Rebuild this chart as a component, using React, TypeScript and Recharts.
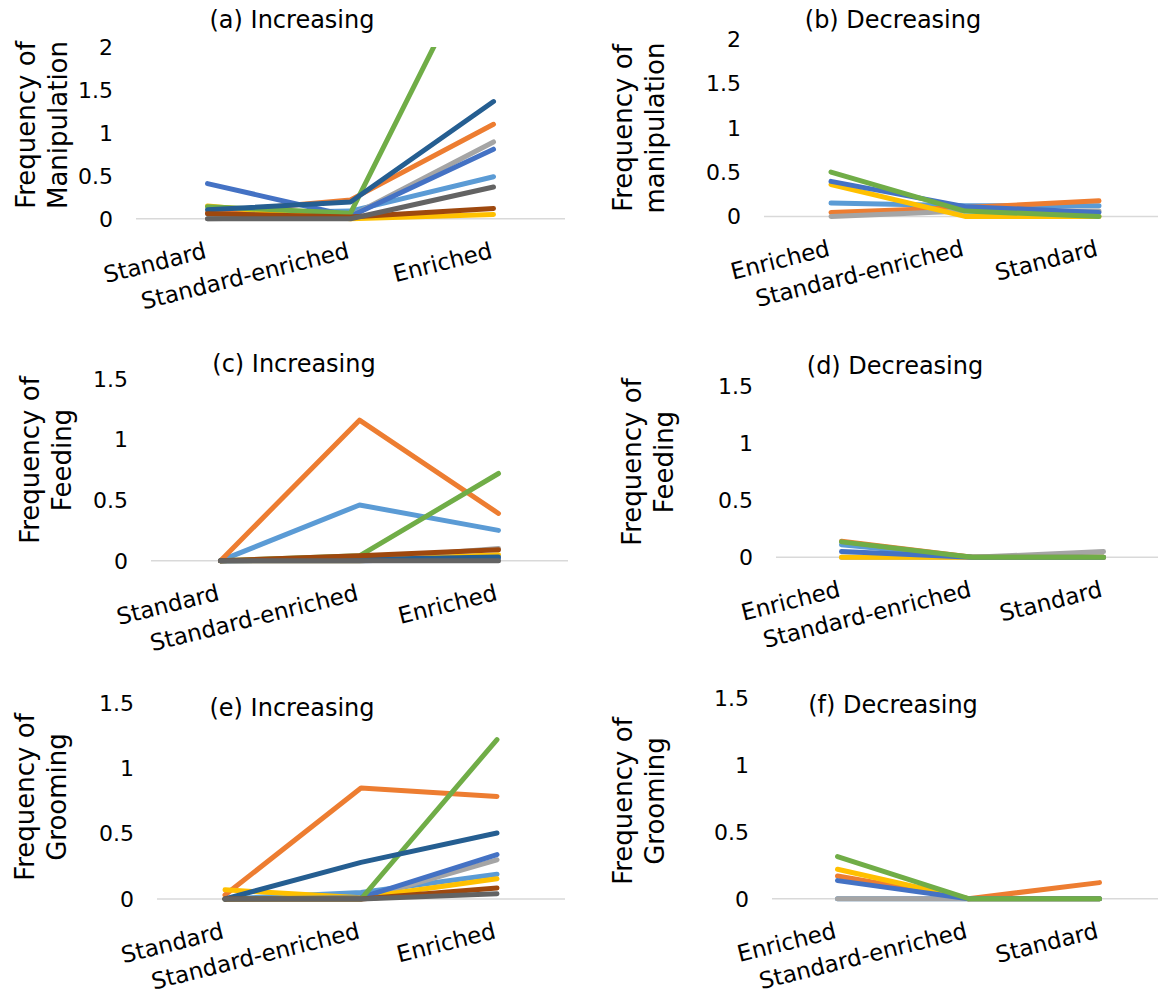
import React from "react";
import { LineChart, Line, XAxis, YAxis, CartesianGrid } from "recharts";

const FONT = '"DejaVu Sans", Verdana, sans-serif';

const INCREASING = ["Standard", "Standard-enriched", "Enriched"];
const DECREASING = ["Enriched", "Standard-enriched", "Standard"];

// Office 2013 palette, in series order
const COLORS = [
  "#5B9BD5",
  "#ED7D31",
  "#A5A5A5",
  "#FFC000",
  "#4472C4",
  "#70AD47",
  "#255E91",
  "#9E480E",
  "#636363",
];

const MANIP_TICKS = [0, 0.5, 1, 1.5, 2];
const OTHER_TICKS = [0, 0.5, 1, 1.5];

// one row per animal, one value per housing condition
const manipulationUp = [
  [0.06, 0.09, 0.49],
  [0.07, 0.22, 1.1],
  [0.0, 0.03, 0.895],
  [0.15, 0.0, 0.05],
  [0.41, 0.03, 0.81],
  [0.14, 0.065, 3.39],
  [0.105, 0.195, 1.365],
  [0.06, 0.02, 0.12],
  [0.0, 0.0, 0.37],
];

const manipulationDown = [
  [0.15, 0.12, 0.12],
  [0.045, 0.1, 0.175],
  [0.0, 0.06, 0.06],
  [0.36, 0.0, 0.0],
  [0.395, 0.11, 0.045],
  [0.5, 0.06, 0.0],
];

const feedingUp = [
  [0.0, 0.46, 0.25],
  [0.0, 1.16, 0.39],
  [0.0, 0.01, 0.1],
  [0.0, 0.0, 0.05],
  [0.0, 0.0, 0.02],
  [0.0, 0.04, 0.72],
  [0.0, 0.01, 0.03],
  [0.0, 0.04, 0.09],
  [0.0, 0.0, 0.0],
];

const feedingDown = [
  [0.11, 0.0, 0.0],
  [0.14, 0.0, 0.0],
  [0.0, 0.0, 0.05],
  [0.0, 0.0, 0.0],
  [0.05, 0.0, 0.0],
  [0.135, 0.0, 0.0],
];

const groomingUp = [
  [0.0, 0.05, 0.19],
  [0.03, 0.85, 0.785],
  [0.0, 0.0, 0.3],
  [0.07, 0.01, 0.155],
  [0.0, 0.01, 0.34],
  [0.0, 0.0, 1.22],
  [0.0, 0.28, 0.505],
  [0.0, 0.0, 0.085],
  [0.0, 0.0, 0.04],
];

const groomingDown = [
  [0.0, 0.0, 0.0],
  [0.17, 0.0, 0.12],
  [0.0, 0.0, 0.0],
  [0.22, 0.0, 0.0],
  [0.135, 0.0, 0.0],
  [0.315, 0.0, 0.0],
];

const PANELS = [
  {
    title: "(a) Increasing",
    titleAt: [292, 20],
    yTitle: ["Frequency of", "Manipulation"],
    yTitleAt: [42, 125],
    cats: INCREASING,
    series: manipulationUp,
    yMax: 2,
    ticks: MANIP_TICKS,
    clip: true,
    plot: { x0: 135.5, x1: 564.5, top: 46.7, base: 218.5 },
  },
  {
    title: "(b) Decreasing",
    titleAt: [893, 20],
    yTitle: ["Frequency of", "manipulation"],
    yTitleAt: [639, 128],
    cats: DECREASING,
    series: manipulationDown,
    yMax: 2,
    ticks: MANIP_TICKS,
    clip: false,
    plot: { x0: 764, x1: 1166, top: 39.3, base: 216.7 },
  },
  {
    title: "(c) Increasing",
    titleAt: [294, 364],
    yTitle: ["Frequency of", "Feeding"],
    yTitleAt: [46, 460],
    cats: INCREASING,
    series: feedingUp,
    yMax: 1.5,
    ticks: OTHER_TICKS,
    clip: false,
    plot: { x0: 150.5, x1: 567.5, top: 379.3, base: 561 },
  },
  {
    title: "(d) Decreasing",
    titleAt: [895, 366],
    yTitle: ["Frequency of", "Feeding"],
    yTitleAt: [648, 462],
    cats: DECREASING,
    series: feedingDown,
    yMax: 1.5,
    ticks: OTHER_TICKS,
    clip: false,
    plot: { x0: 776, x1: 1169, top: 386, base: 557.3 },
  },
  {
    title: "(e) Increasing",
    titleAt: [292, 708],
    yTitle: ["Frequency of", "Grooming"],
    yTitleAt: [41, 797],
    cats: INCREASING,
    series: groomingUp,
    yMax: 1.5,
    ticks: OTHER_TICKS,
    clip: false,
    plot: { x0: 157, x1: 565, top: 703.3, base: 899.3 },
  },
  {
    title: "(f) Decreasing",
    titleAt: [893, 705],
    yTitle: ["Frequency of", "Grooming"],
    yTitleAt: [639, 801],
    cats: DECREASING,
    series: groomingDown,
    yMax: 1.5,
    ticks: OTHER_TICKS,
    clip: false,
    plot: { x0: 771.5, x1: 1164.5, top: 698.3, base: 899 },
  },
];

const LABEL_DROP = 39; // baseline of slanted category labels below the zero line

const SlantTick = ({ x, y, payload }: any) => (
  <g transform={`translate(${x},${y}) rotate(-14)`}>
    <text textAnchor="end" fill="#000" fontSize={23} fontFamily={FONT}>
      {payload.value}
    </text>
  </g>
);

const Panel = ({ p }: { p: (typeof PANELS)[number] }) => {
  const { x0, x1, top, base } = p.plot;
  const pxPerUnit = (base - top) / p.yMax;
  // a little room under zero so clipped panels don't shave the lines lying on it
  const yMin = p.clip ? -0.05 : 0;
  const padPx = -yMin * pxPerUnit;
  const bottom = base + padPx;

  const topRoom = 24;
  const yAxisWidth = 120;
  const xAxisHeight = 120;
  const left = x0 - yAxisWidth;
  const chartTop = top - topRoom;
  const width = x1 - left;
  const height = bottom - chartTop + xAxisHeight;
  const step = (x1 - x0) / p.cats.length;

  const data = p.cats.map((cat, i) => {
    const row: Record<string, any> = { cat };
    p.series.forEach((s, k) => {
      row[`s${k}`] = s[i];
    });
    return row;
  });

  return (
    <div style={{ position: "absolute", left, top: chartTop }}>
      <LineChart
        width={width}
        height={height}
        data={data}
        margin={{ top: topRoom, right: 0, bottom: 0, left: 0 }}
      >
        <CartesianGrid
          vertical={false}
          horizontalValues={[0]}
          stroke="#D9D9D9"
          strokeWidth={1.5}
        />
        <XAxis
          dataKey="cat"
          interval={0}
          axisLine={false}
          tickLine={false}
          tickSize={0}
          tickMargin={LABEL_DROP - padPx}
          height={xAxisHeight}
          padding={{ left: step / 2, right: step / 2 }}
          tick={<SlantTick />}
        />
        <YAxis
          type="number"
          domain={[yMin, p.yMax]}
          ticks={p.ticks}
          allowDataOverflow={p.clip}
          axisLine={false}
          tickLine={false}
          tickSize={0}
          tickMargin={23}
          width={yAxisWidth}
          interval={0}
          tick={{ fill: "#000", fontSize: 22, fontFamily: FONT }}
        />
        {p.series.map((_, k) => (
          <Line
            key={k}
            type="linear"
            dataKey={`s${k}`}
            stroke={COLORS[k]}
            strokeWidth={5}
            strokeLinecap="round"
            strokeLinejoin="round"
            dot={false}
            activeDot={false}
            isAnimationActive={false}
          />
        ))}
      </LineChart>
    </div>
  );
};

export default function App() {
  return (
    <div
      style={{
        position: "absolute",
        left: 0,
        top: 0,
        width: 1158,
        height: 996,
        overflow: "hidden",
        background: "#fff",
        fontFamily: FONT,
        color: "#000",
      }}
    >
      {PANELS.map((p) => (
        <React.Fragment key={p.title}>
          <Panel p={p} />
          <div
            style={{
              position: "absolute",
              left: p.titleAt[0],
              top: p.titleAt[1],
              transform: "translate(-50%, -50%)",
              fontSize: 24,
              whiteSpace: "nowrap",
            }}
          >
            {p.title}
          </div>
          <div
            style={{
              position: "absolute",
              left: p.yTitleAt[0],
              top: p.yTitleAt[1],
              transform: "translate(-50%, -50%) rotate(-90deg)",
              fontSize: 26,
              lineHeight: "32px",
              textAlign: "center",
              whiteSpace: "nowrap",
            }}
          >
            {p.yTitle[0]}
            <br />
            {p.yTitle[1]}
          </div>
        </React.Fragment>
      ))}
    </div>
  );
}
